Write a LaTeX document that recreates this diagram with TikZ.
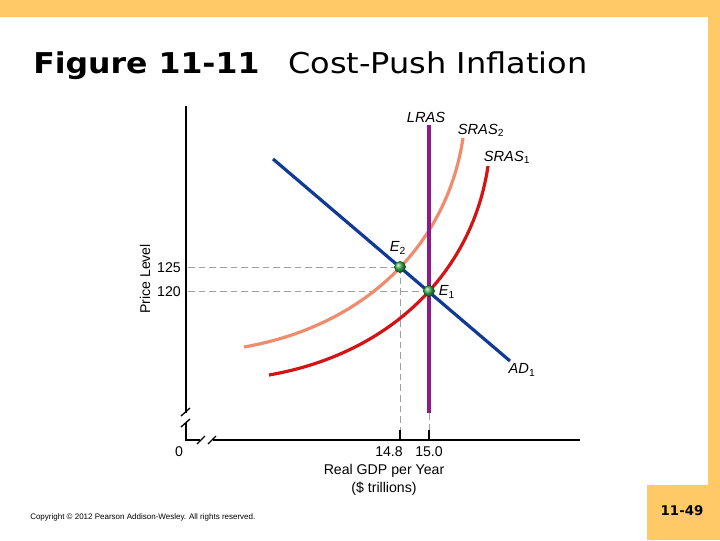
\documentclass[tikz,border=0pt]{standalone}
\usepackage{fontspec}
\setmainfont{Liberation Sans}
\newfontfamily\titlefont{DejaVu Sans}
\definecolor{bandor}{RGB}{255,202,102}
\definecolor{adblue}{RGB}{16,58,150}
\definecolor{srasred}{RGB}{212,20,20}
\definecolor{srassal}{RGB}{240,140,110}
\definecolor{lraspur}{RGB}{140,26,140}
\definecolor{dashgray}{RGB}{160,160,160}
\definecolor{ballgreen}{RGB}{60,175,80}
\tikzset{
  axisline/.style={line width=1.3pt,black},
  guide/.style={dashgray,dash pattern=on 5pt off 3pt,line width=0.7pt},
  lbl/.style={font=\fontsize{10.6pt}{12pt}\selectfont,inner sep=1pt},
  curvelbl/.style={font=\fontsize{11pt}{13pt}\selectfont\itshape,inner sep=1pt},
  curve/.style={line width=2.4pt},
  eqpt/.style={circle,minimum size=8.5pt,inner sep=0pt,ball color=ballgreen,draw=green!35!black,line width=0.3pt},
}
\begin{document}
\begin{tikzpicture}[x=0.75pt,y=-0.75pt]
\useasboundingbox (0,0) rectangle (720,540);
% frame
\fill[bandor] (0,0) rectangle (720,17);
\fill[bandor] (708,0) rectangle (720,540);
\fill[bandor] (647,485) rectangle (720,540);
\node[font=\titlefont\bfseries\fontsize{10pt}{12pt}\selectfont] (page) at (682,511) {11-49};
% title
\node[anchor=base west,inner sep=0pt,xscale=1.1,font=\titlefont\bfseries\fontsize{21.5pt}{24pt}\selectfont] (fig) at (33,73) {Figure 11-11};
\node[anchor=base west,inner sep=0pt,xscale=1.115,font=\titlefont\fontsize{21.5pt}{24pt}\selectfont] (ttl) at (288,73) {Cost-Push Inflation};
% copyright
\node[anchor=west,inner sep=0pt,font=\fontsize{6pt}{7pt}\selectfont] (copy) at (30,517) {Copyright \textcopyright{} 2012 Pearson Addison-Wesley. All rights reserved.};
% axes
\coordinate (ytop) at (186,106);
\coordinate (org) at (186,440);
\coordinate (xend) at (580,440);
\draw[axisline] (ytop) -- (186,413);
\draw[axisline] (186,423) -- (org) -- (200,440);
\draw[axisline] (213,440) -- (xend);
\draw[line width=1pt] (181,416) -- (190,408);
\draw[line width=1pt] (181,427) -- (190,419);
\draw[line width=1pt] (197,444) -- (205,436);
\draw[line width=1pt] (208,444) -- (216,436);
% ticks
\draw[line width=1pt] (400,430) -- (400,440);
\draw[line width=1pt] (429,430) -- (429,440);
% points
\coordinate (E2) at (400,267);
\coordinate (E1) at (429,291);
% guides
\draw[guide] (188,267) -- (E2);
\draw[guide] (188,291) -- (E1);
\draw[guide] (E2) -- (400,430);
\draw[guide] (429,413) -- (429,430);
% labels
\node[lbl] (l125) at (169,268) {125};
\node[lbl] (l120) at (169,292) {120};
\node[lbl] (l0) at (179,452) {0};
\node[lbl] (l148) at (389,452) {14.8};
\node[lbl] (l150) at (429,452) {15.0};
\node[lbl] (xlab) at (384,471) {Real GDP per Year};
\node[lbl] (xunit) at (384,489) {(\$ trillions)};
\node[lbl,rotate=90] (ylab) at (145,279) {Price Level};
% curves
\coordinate (s2a) at (244,347);
\coordinate (s2b) at (463,138);
\coordinate (s1a) at (269,375);
\coordinate (s1b) at (488,166);
\draw[srassal,curve] (s2a) .. controls (370,325) and (448,240) .. (s2b);
\draw[srasred,curve] (s1a) .. controls (395,353) and (473,268) .. (s1b);
\coordinate (ltop) at (429,125);
\coordinate (lbot) at (429,413);
\draw[lraspur,curve] (ltop) -- (lbot);
\coordinate (ada) at (273,159);
\coordinate (adb) at (510,361);
\draw[adblue,curve] (ada) -- (adb);
\node[eqpt] (p2) at (E2) {};
\node[eqpt] (p1) at (E1) {};
\node[curvelbl] (lras) at (426,117) {LRAS};
\node[curvelbl] (s2) at (481,130) {SRAS$_{\mathrm{2}}$};
\node[curvelbl] (s1) at (507,157) {SRAS$_{\mathrm{1}}$};
\node[curvelbl] (ad) at (522,370) {AD$_{\mathrm{1}}$};
\node[curvelbl] (e2l) at (398,248) {E$_{\mathrm{2}}$};
\node[curvelbl] (e1l) at (447,292) {E$_{\mathrm{1}}$};
\end{tikzpicture}
\end{document}
